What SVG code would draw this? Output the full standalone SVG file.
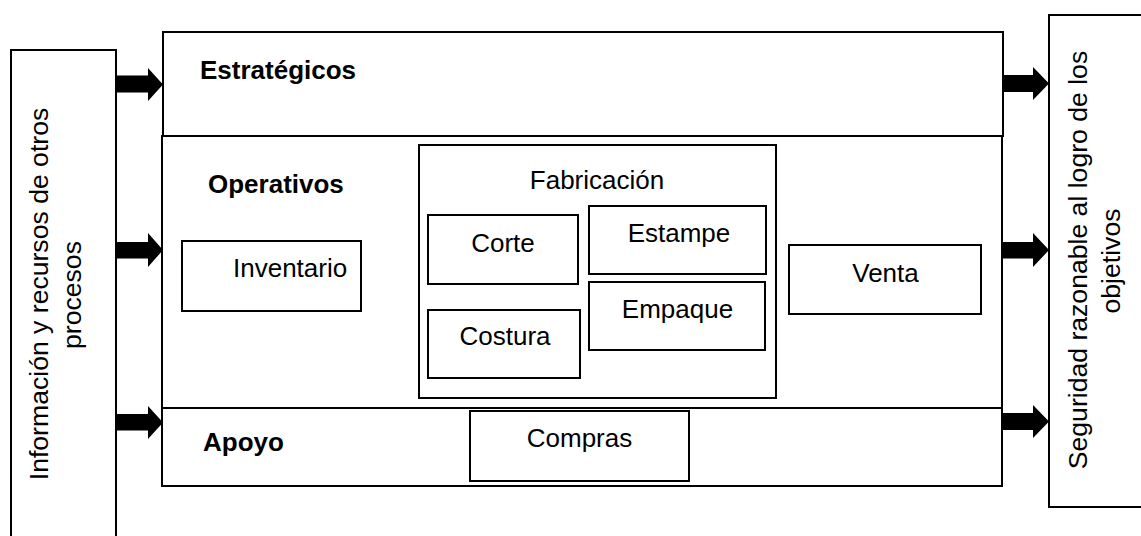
<svg xmlns="http://www.w3.org/2000/svg" width="1141" height="536" viewBox="0 0 1141 536">
<style>
rect{fill:#fff;stroke:#000;stroke-width:2}
text{font-family:"Liberation Sans",Arial,sans-serif;font-size:26px;fill:#000}
.b{font-weight:bold}
.m{text-anchor:middle}
.r{font-size:26.6px}
.arrow{fill:#000;stroke:none}
</style>
<rect x="-5" y="-5" width="1151" height="546" style="stroke:none"/>
<g id="entrada">
<rect x="11" y="50" width="105" height="500"/>
<text class="m r" transform="translate(47.5,294) rotate(-90)">Información y recursos de otros</text>
<text class="m r" transform="translate(81,295) rotate(-90)">procesos</text>
</g>
<g id="salida">
<rect x="1049" y="15" width="110" height="492"/>
<text class="m r" transform="translate(1086.5,260) rotate(-90)">Seguridad razonable al logro de los</text>
<text class="m r" transform="translate(1120,261) rotate(-90)">objetivos</text>
</g>
<g id="estrategicos">
<rect x="163" y="32" width="840" height="104"/>
<text class="b" x="200" y="79">Estratégicos</text>
</g>
<g id="operativos">
<rect x="162" y="136" width="840" height="272"/>
<text class="b" x="208" y="192.5">Operativos</text>
</g>
<g id="apoyo">
<rect x="162" y="408" width="840" height="78"/>
<text class="b" x="203" y="451">Apoyo</text>
</g>
<g id="inventario">
<rect x="182" y="241" width="179" height="70"/>
<text x="233" y="277">Inventario</text>
</g>
<g id="fabricacion">
<rect x="419" y="145" width="357" height="253"/>
<text class="m" x="597" y="189">Fabricación</text>
</g>
<g id="corte">
<rect x="428" y="215" width="150" height="69"/>
<text class="m" x="503" y="252">Corte</text>
</g>
<g id="estampe">
<rect x="589" y="206" width="177" height="68"/>
<text class="m" x="679" y="242">Estampe</text>
</g>
<g id="empaque">
<rect x="589" y="282" width="176" height="68"/>
<text class="m" x="677.5" y="318">Empaque</text>
</g>
<g id="costura">
<rect x="428" y="310" width="152" height="68"/>
<text class="m" x="505" y="345">Costura</text>
</g>
<g id="venta">
<rect x="789" y="245" width="192" height="69"/>
<text class="m" x="885.5" y="282">Venta</text>
</g>
<g id="compras">
<rect x="470" y="411" width="219" height="70"/>
<text class="m" x="579.5" y="447">Compras</text>
</g>
<g id="connectors">
<polygon class="arrow" points="116,75.5 148,75.5 148,68 163,84.5 148,101 148,92.5 116,92.5"/>
<polygon class="arrow" points="116,242 148,242 148,233 163,250 148,267 148,258.5 116,258.5"/>
<polygon class="arrow" points="116,414 148,414 148,406 163,422.5 148,439 148,430.5 116,430.5"/>
<polygon class="arrow" points="1003,75 1033,75 1033,67 1049,83.5 1033,100 1033,92 1003,92"/>
<polygon class="arrow" points="1002,242 1033,242 1033,233 1049,250 1033,267 1033,258.5 1002,258.5"/>
<polygon class="arrow" points="1002,413 1033,413 1033,405 1049,421.5 1033,438 1033,430 1002,430"/>
</g>
</svg>
